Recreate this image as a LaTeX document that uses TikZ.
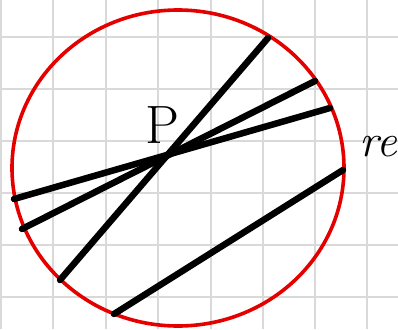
\documentclass[tikz,border=0pt]{standalone}
\usepackage{fontspec}
\setmainfont{Latin Modern Roman}
\begin{document}
\begin{tikzpicture}[x=1pt,y=-1pt,
  gridline/.style={draw=gray!30,line width=2pt},
  chord/.style={draw=black,line width=6.5pt,line cap=round},
  circ/.style={draw=red!90!black,line width=3.6pt},
  lbl/.style={inner sep=0pt}]
\useasboundingbox (0,0) rectangle (398,329);
\fill[white] (0,0) rectangle (398,329);
% grid
\foreach \x in {1,53,106,158,211,263,315,367}
  \draw[gridline] (\x,0) -- (\x,329);
\foreach \y in {37,89,141,193,245,297}
  \draw[gridline] (0,\y) -- (398,\y);
% circle
\coordinate (O) at (178,168);
\draw[circ] (O) ellipse [x radius=166, y radius=158];
% endpoints
\coordinate (a1) at (60,280);
\coordinate (a2) at (268,38);
\coordinate (b1) at (14,199);
\coordinate (b2) at (330,108);
\coordinate (c1) at (22,229);
\coordinate (c2) at (315,81);
\coordinate (d1) at (114,314);
\coordinate (d2) at (343,170);
\draw[chord] (a1) -- (a2);
\draw[chord] (b1) -- (b2);
\draw[chord] (c1) -- (c2);
\draw[chord] (d1) -- (d2);
% labels
\node[lbl,font=\fontsize{54}{54}\selectfont] (P) at (162,125) {P};
\node[lbl,font=\fontsize{46}{46}\selectfont\itshape] (re) at (378,147) {re};
\end{tikzpicture}
\end{document}
